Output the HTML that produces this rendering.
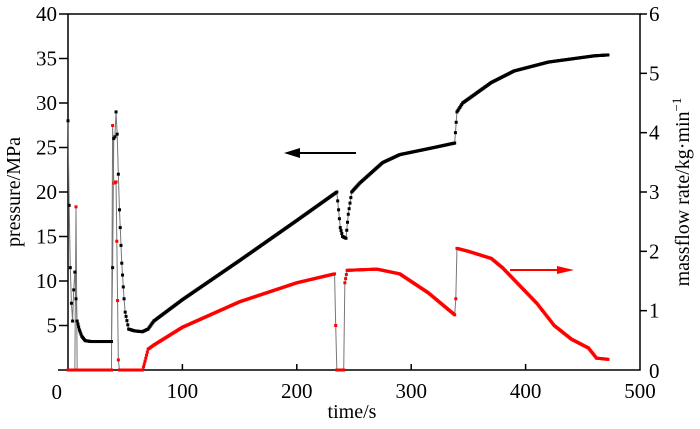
<!DOCTYPE html>
<html><head><meta charset="utf-8"><style>
html,body{margin:0;padding:0;background:#fff}
svg, svg text{font-family:"Liberation Serif","DejaVu Serif",serif}
svg{display:block}
</style></head><body>
<svg id="chart" width="700" height="429" viewBox="0 0 700 429" xmlns="http://www.w3.org/2000/svg" font-family="Liberation Serif, DejaVu Serif, serif">
<g id="axes"></g>
<g id="series"></g>
<g><line x1="356" y1="153" x2="298" y2="153" stroke="#000" stroke-width="2"/><polygon points="284,153 300,148 300,158" fill="#000"/></g>
<g><line x1="510" y1="270" x2="562" y2="270" stroke="#f00" stroke-width="2"/><polygon points="574,270 557,266 557,274" fill="#f00"/></g>
<text x="352" y="418" font-size="20" text-anchor="middle" font-family="Liberation Serif, serif">time/s</text>
<text transform="translate(20,192) rotate(-90)" font-size="20" text-anchor="middle" font-family="Liberation Serif, serif">pressure/MPa</text>
<text transform="translate(689,192) rotate(-90)" font-size="20" text-anchor="middle" font-family="Liberation Serif, serif">massflow rate/kg·min<tspan dy="-8" font-size="13">−1</tspan></text>
</svg>
<script>
const xTicks=[0,100,200,300,400,500];
const yLeftTicks=[0,5,10,15,20,25,30,35,40];
const yRightTicks=[0,1,2,3,4,5,6];
const pressureT=[0,1,2,3,4,5,6,7,8,10,12,15,20,38,39,40,41,42,43,44,45,47,49,50,53,58,65,70,75,100,150,200,235,238,240,243,245,248,255,275,290,320,338,340,345,370,390,420,460,472];
const pressureV=[28,18.5,11.5,7.5,5.5,9,11,8,5.5,4.5,3.8,3.3,3.2,3.2,11.5,26,26.2,29,26.5,22,18,12,8,6.5,4.6,4.4,4.3,4.6,5.5,7.9,12.3,16.8,20,16,15,14.8,17.5,20,21,23.3,24.2,25,25.5,29,30,32.3,33.6,34.6,35.3,35.4];
const massT=[0,6,7,8,37,38,39,40,42,44,45,65,66,68,70,75,100,150,200,233,234,235,241,242,244,270,290,315,338,339,340,350,370,380,395,410,425,440,455,462,472];
const massV=[0,0,2.75,0,0,0,4.12,3.15,3.17,0.17,0,0,0.05,0.2,0.35,0.42,0.72,1.15,1.47,1.62,0.75,0,0,1.47,1.68,1.7,1.62,1.3,0.93,1.2,2.05,2.0,1.88,1.72,1.42,1.12,0.75,0.52,0.37,0.2,0.18];
const NS="http://www.w3.org/2000/svg";
const X0=68,X1=640,Y0=370,Y1=14;
const xs=t=>X0+t/500*(X1-X0);
const yL=v=>Y0-v/40*(Y0-Y1);
const yR=v=>Y0-v/6*(Y0-Y1);
function mk(tag,attrs,parent){const e=document.createElementNS(NS,tag);for(const k in attrs)e.setAttribute(k,attrs[k]);parent.appendChild(e);return e;}
const FF="Liberation Serif, serif";
const ax=document.getElementById('axes');
let fr=mk('rect',{x:X0,y:Y1,width:X1-X0,height:Y0-Y1,fill:'none',stroke:'#000','stroke-width':1.5},ax);


let bl=mk('line',{x1:58,y1:Y0,x2:X0,y2:Y0,stroke:'#000','stroke-width':1.5},ax);


xTicks.forEach(t=>{
  if(t>0&&t<500){let l=mk('line',{x1:xs(t),y1:Y0,x2:xs(t),y2:Y0-6,stroke:'#000','stroke-width':1.5},ax);
  
  }
  if(t===0)return;
  let tx=mk('text',{x:xs(t),y:398,'font-size':21,'text-anchor':'middle','font-family':FF},ax);tx.textContent=t;
  
  
});
yLeftTicks.forEach(v=>{
  if(v>0){let l=mk('line',{x1:X0-9,y1:yL(v),x2:X0,y2:yL(v),stroke:'#000','stroke-width':1.5},ax);
  
  }
  let tx=mk('text',{x:57,y:v===0?399:yL(v)+7,'font-size':21,'text-anchor':'end','font-family':FF},ax);tx.textContent=v;
  if(v===0)tx.setAttribute('x',62);
  
  
});
yRightTicks.forEach(v=>{
  if(v>0){let l=mk('line',{x1:X1,y1:yR(v),x2:X1+7,y2:yR(v),stroke:'#000','stroke-width':1.5},ax);
  
  }
  let tx=mk('text',{x:649,y:v===0?378:yR(v)+7,'font-size':21,'font-family':FF},ax);tx.textContent=v;
  
  
});
const sg=document.getElementById('series');
function draw(T,V,yf,color,name){
  const pts=T.map((t,i)=>xs(t)+','+yf(V[i])).join(' ');
  let pl=mk('polyline',{points:pts,fill:'none',stroke:'#777','stroke-width':1},sg);
  
  
  for(let i=0;i<T.length-1;i++){
    const dt=T[i+1]-T[i];const n=Math.max(1,Math.round(dt/0.8));
    for(let k=0;k<n;k++){
      const t=T[i]+dt*k/n;const v=V[i]+(V[i+1]-V[i])*k/n;
      if(dt>3&&Math.abs(V[i+1]-V[i])/dt>0.5&&k>0)continue;
      let r=mk('rect',{x:xs(t)-1.5,y:yf(v)-1.5,width:3,height:3,fill:color},sg);
      
      
    }
  }
  let i=T.length-1;
  let r=mk('rect',{x:xs(T[i])-1.5,y:yf(V[i])-1.5,width:3,height:3,fill:color},sg);
  
  
}
draw(massT,massV,yR,'#f00','massflow');
draw(pressureT,pressureV,yL,'#000','pressure');
</script>
</body></html>
